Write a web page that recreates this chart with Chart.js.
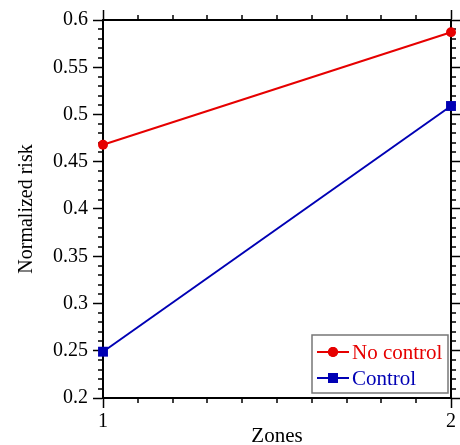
<!DOCTYPE html>
<html>
<head>
<meta charset="utf-8">
<script src="https://cdn.jsdelivr.net/npm/chart.js@4.4.0/dist/chart.umd.min.js"></script>
<style>
  html, body { margin: 0; padding: 0; background: #fff; }
  canvas { display: block; }
</style>
</head>
<body>
<canvas id="riskChart" width="460" height="445"></canvas>
<script>
// zones along the x axis
const zones = [1, 2];
// normalized risk per zone
const noControl = [0.468, 0.587];
const control = [0.249, 0.509];
// labelled ticks
const xTickValues = [1, 2];
const yTickValues = [0.2, 0.25, 0.3, 0.35, 0.4, 0.45, 0.5, 0.55, 0.6];

const red = '#e60000';
const blue = '#0000b4';
const serif = "'Liberation Serif', 'Times New Roman', serif";

Chart.defaults.font.family = serif;
Chart.defaults.color = '#000';

// small unlabelled ticks between the major ones, all pointing outwards
const minorTicks = {
    id: 'minorTicks',
    beforeDatasetsDraw(chart) {
        const ctx = chart.ctx;
        const a = chart.chartArea;
        const x = chart.scales.x, y = chart.scales.y;
        ctx.save();
        ctx.strokeStyle = '#000';
        ctx.lineWidth = 1.5;
        ctx.beginPath();
        for (let i = 1; i < 10; i++) {
            const px = Math.round(x.getPixelForValue(1 + i * 0.1));
            ctx.moveTo(px, a.bottom); ctx.lineTo(px, a.bottom + 5);
            ctx.moveTo(px, a.top); ctx.lineTo(px, a.top - 5);
        }
        for (let i = 1; i < 40; i++) {
            if (i % 5 === 0) continue;
            const py = Math.round(y.getPixelForValue(0.2 + i * 0.01));
            ctx.moveTo(a.left, py); ctx.lineTo(a.left - 5, py);
            ctx.moveTo(a.right, py); ctx.lineTo(a.right + 5, py);
        }
        ctx.stroke();
        ctx.restore();
    }
};

// boxed legend in the bottom right corner
const boxLegend = {
    id: 'boxLegend',
    afterDraw(chart) {
        const ctx = chart.ctx;
        const a = chart.chartArea;
        const bx = a.right - 139, by = a.bottom - 63, bw = 136, bh = 58;
        ctx.save();
        ctx.fillStyle = '#fff';
        ctx.fillRect(bx, by, bw, bh);
        ctx.strokeStyle = '#777';
        ctx.lineWidth = 1.5;
        ctx.strokeRect(bx, by, bw, bh);
        chart.data.datasets.forEach((ds, i) => {
            const cy = by + 17 + i * 26;
            ctx.strokeStyle = ds.borderColor;
            ctx.lineWidth = 2;
            ctx.beginPath();
            ctx.moveTo(bx + 5, cy);
            ctx.lineTo(bx + 37, cy);
            ctx.stroke();
            ctx.fillStyle = ds.pointBackgroundColor;
            Chart.helpers.drawPoint(ctx, {
                pointStyle: ds.pointStyle, radius: ds.pointRadius, rotation: 0, borderWidth: 0
            }, bx + 21, cy);
            ctx.fill();
            ctx.fillStyle = ds.borderColor;
            ctx.font = '21px ' + serif;
            ctx.textBaseline = 'middle';
            ctx.fillText(ds.label, bx + 40, cy + 1);
        });
        ctx.restore();
    }
};

const frame = {
    display: true,
    drawOnChartArea: false,
    drawTicks: true,
    tickLength: 10,
    tickWidth: 1.5,
    color: '#000'
};

new Chart(document.getElementById('riskChart'), {
    type: 'line',
    data: {
        labels: zones,
        datasets: [{
            label: 'No control',
            data: zones.map((z, i) => ({ x: z, y: noControl[i] })),
            borderColor: red,
            backgroundColor: red,
            pointBackgroundColor: red,
            pointBorderWidth: 0,
            pointStyle: 'circle',
            pointRadius: 5,
            borderWidth: 2,
            clip: false
        }, {
            label: 'Control',
            data: zones.map((z, i) => ({ x: z, y: control[i] })),
            borderColor: blue,
            backgroundColor: blue,
            pointBackgroundColor: blue,
            pointBorderWidth: 0,
            pointStyle: 'rect',
            pointRadius: 7,
            borderWidth: 2,
            clip: false
        }]
    },
    options: {
        responsive: false,
        animation: false,
        layout: { padding: 0 },
        plugins: {
            legend: { display: false },
            tooltip: { enabled: false }
        },
        scales: {
            x: {
                type: 'linear',
                position: 'bottom',
                min: 1,
                max: 2,
                afterBuildTicks: s => { s.ticks = xTickValues.map(v => ({ value: v })); },
                afterFit: s => { s.height = 47; },
                grid: frame,
                border: { display: true, width: 2, color: '#000' },
                ticks: { font: { size: 20 }, padding: 2, maxRotation: 0 },
                title: { display: true, text: 'Zones', font: { size: 21 }, padding: { top: 0, bottom: -4 } }
            },
            x2: {
                type: 'linear',
                position: 'top',
                min: 1,
                max: 2,
                afterBuildTicks: s => { s.ticks = xTickValues.map(v => ({ value: v })); },
                afterFit: s => { s.height = 20; },
                grid: frame,
                border: { display: true, width: 2, color: '#000' },
                ticks: { display: false }
            },
            y: {
                type: 'linear',
                position: 'left',
                min: 0.2,
                max: 0.6,
                afterBuildTicks: s => { s.ticks = yTickValues.map(v => ({ value: v })); },
                afterFit: s => { s.width = 103; },
                grid: frame,
                border: { display: true, width: 2, color: '#000' },
                ticks: { font: { size: 20 }, padding: 5, callback: v => String(+v.toFixed(2)) },
                title: { display: true, text: 'Normalized risk', font: { size: 20 }, padding: { top: 15, bottom: 0 } }
            },
            y2: {
                type: 'linear',
                position: 'right',
                min: 0.2,
                max: 0.6,
                afterBuildTicks: s => { s.ticks = yTickValues.map(v => ({ value: v })); },
                afterFit: s => { s.width = 9; },
                grid: frame,
                border: { display: true, width: 2, color: '#000' },
                ticks: { display: false }
            }
        }
    },
    plugins: [minorTicks, boxLegend]
});
</script>
</body>
</html>
